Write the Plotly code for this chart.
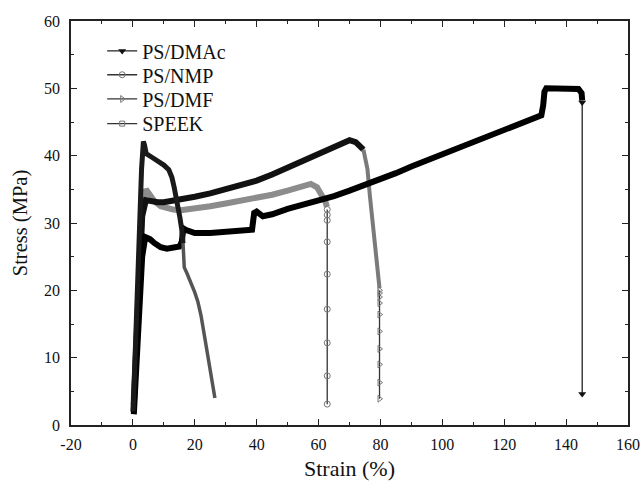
import plotly.graph_objects as go

# ---- tensile curves: strain (%) vs stress (MPa) ----
# continuous (densely sampled) part of each curve
dmac_x = [0.3, 1.0, 2.0, 3.0, 4.0, 5.5, 7, 9, 11, 13, 15, 15.8, 16.3, 17, 20, 25, 30, 35,
          38.5, 39.2, 40, 42, 45, 50, 55, 60, 65, 70, 75, 80, 85, 90, 95, 100, 105, 110,
          115, 120, 125, 130, 132, 132.6, 133, 133.6, 135, 140, 144, 145.0, 145.2]
dmac_y = [1.6, 8, 17, 25, 27.9, 27.6, 27.0, 26.4, 26.2, 26.3, 26.5, 27.2, 29.2, 29.0, 28.5,
          28.5, 28.7, 28.9, 29.0, 31.5, 31.7, 31.0, 31.3, 32.1, 32.7, 33.3, 34.0, 34.8, 35.6,
          36.5, 37.4, 38.4, 39.3, 40.3, 41.2, 42.1, 43.0, 43.8, 44.8, 45.6, 46.0, 47.5, 49.5,
          50.0, 50.0, 50.0, 49.9, 49.3, 48.2]

nmp_x = [0.2, 1, 2, 3, 4.2, 5.5, 7, 9, 11, 13, 15.5, 20, 25, 30, 35, 40, 45, 50, 55, 57.5,
         59.5, 61, 62.2, 62.7]
nmp_y = [3.0, 12, 24, 32, 35.0, 34.3, 33.2, 32.5, 32.2, 32.0, 31.9, 32.1, 32.5, 32.9, 33.3,
         33.7, 34.2, 34.8, 35.5, 35.8, 35.3, 34.3, 33.2, 32.4]

dmf_x = [0.2, 1, 2, 3, 4.2, 6, 8, 10, 13, 16, 20, 25, 30, 35, 40, 45, 50, 55, 60, 65, 68,
         70, 72, 74.5]
dmf_y = [2.0, 10, 21, 31, 33.4, 33.2, 33.1, 33.1, 33.3, 33.5, 33.9, 34.4, 35.0, 35.6, 36.3,
         37.2, 38.2, 39.2, 40.2, 41.2, 41.8, 42.3, 42.0, 40.9]
# steep drop after the DMF yield, sampled less densely
dmf_drop_x = [74.5, 75.8, 76.6, 77.4, 78.2, 79.0, 79.7]
dmf_drop_y = [40.9, 38.0, 34.0, 30.4, 27.0, 24.0, 20.3]

speek_x = [0.1, 0.8, 1.5, 2.2, 2.8, 3.4, 3.8, 4.3, 6, 8, 10, 11.6, 12.6, 13.3, 14, 14.6,
           15.2, 15.8, 16.2]
speek_y = [2.0, 10, 20, 30, 38, 42.1, 41.5, 40.3, 39.8, 39.3, 38.6, 37.9, 36.8, 35.4, 34,
           32.4, 30.8, 29.0, 27]
speek_drop_x = [16.2, 16.6, 17.5, 18.7, 20, 21, 22, 23, 24, 25.2, 26, 26.5]
speek_drop_y = [27, 23.4, 22.5, 21.3, 19.7, 18.3, 16.3, 13.6, 10.8, 7.6, 5.5, 4.0]

# sparse points recorded during fracture
dmac_tail_x = [145.2, 145.2]
dmac_tail_y = [47.9, 4.6]

nmp_tail_x = [62.8] * 9
nmp_tail_y = [32.0, 31.2, 30.4, 27.2, 22.4, 17.2, 12.2, 7.3, 3.1]

dmf_tail_x = [79.7] * 10
dmf_tail_y = [20.0, 19.6, 19.0, 18.1, 16.4, 13.9, 11.3, 9.0, 6.3, 3.9]

names = ["PS/DMAc", "PS/NMP", "PS/DMF", "SPEEK"]

x_ticks = [-20, 0, 20, 40, 60, 80, 100, 120, 140, 160]
x_tick_labels = ["-20", "0", "20", "40", "60", "80", "100", "120", "140", "160"]
y_ticks = [0, 10, 20, 30, 40, 50, 60]
y_tick_labels = ["0", "10", "20", "30", "40", "50", "60"]

FONT = "'Liberation Serif', 'Times New Roman', Times, serif"

fig = go.Figure()

# dense sampling renders as a thick band
fig.add_trace(go.Scatter(x=nmp_x, y=nmp_y, mode="lines", showlegend=False,
                         line=dict(color="#8c8c8c", width=6)))
fig.add_trace(go.Scatter(x=dmf_x, y=dmf_y, mode="lines", showlegend=False,
                         line=dict(color="#111111", width=6)))
fig.add_trace(go.Scatter(x=dmf_drop_x, y=dmf_drop_y, mode="lines", showlegend=False,
                         line=dict(color="#7a7a7a", width=4)))
fig.add_trace(go.Scatter(x=dmac_x, y=dmac_y, mode="lines", showlegend=False,
                         line=dict(color="#000000", width=6)))
fig.add_trace(go.Scatter(x=speek_x, y=speek_y, mode="lines", showlegend=False,
                         line=dict(color="#1a1a1a", width=5)))
fig.add_trace(go.Scatter(x=speek_drop_x, y=speek_drop_y, mode="lines", showlegend=False,
                         line=dict(color="#555555", width=3.5)))

# fracture segments with individual markers; these carry the legend entries
fig.add_trace(go.Scatter(x=dmac_tail_x, y=dmac_tail_y, mode="lines+markers", name=names[0],
                         legend="legend",
                         line=dict(color="#222222", width=1.3),
                         marker=dict(symbol="triangle-down", size=7, color="#111111")))
fig.add_trace(go.Scatter(x=nmp_tail_x, y=nmp_tail_y, mode="lines+markers", name=names[1],
                         legend="legend2",
                         line=dict(color="#333333", width=1.3),
                         marker=dict(symbol="circle-open", size=6, color="#777777",
                                     line=dict(width=1))))
fig.add_trace(go.Scatter(x=dmf_tail_x, y=dmf_tail_y, mode="lines+markers", name=names[2],
                         legend="legend3",
                         line=dict(color="#333333", width=1.3),
                         marker=dict(symbol="triangle-right-open", size=6, color="#777777",
                                     line=dict(width=1))))
fig.add_trace(go.Scatter(x=[None], y=[None], mode="lines+markers", name=names[3],
                         legend="legend4",
                         line=dict(color="#333333", width=1.3),
                         marker=dict(symbol="square-open", size=5, color="#777777",
                                     line=dict(width=1))))

axis_common = dict(
    showline=True, linecolor="#222222", linewidth=1.5, mirror="ticks",
    ticks="inside", ticklen=6, tickwidth=1.3, tickcolor="#222222",
    showgrid=False, zeroline=False, automargin=False,
    tickfont=dict(family=FONT, size=16, color="#111111"),
)

fig.update_xaxes(range=[-20, 160], tickmode="array", tickvals=x_ticks,
                 ticktext=x_tick_labels,
                 minor=dict(dtick=10, tick0=0, ticks="inside", ticklen=3.5,
                            tickcolor="#222222"),
                 title_text="Strain (%)", title_standoff=12, ticklabelstandoff=4,
                 title_font=dict(family=FONT, size=22, color="#111111"),
                 **axis_common)
fig.update_yaxes(range=[0, 60], tickmode="array", tickvals=y_ticks,
                 ticktext=y_tick_labels,
                 minor=dict(dtick=5, tick0=0, ticks="inside", ticklen=3.5,
                            tickcolor="#222222"),
                 title_text="Stress (MPa)", title_standoff=11, ticklabelstandoff=6,
                 title_font=dict(family=FONT, size=20.5, color="#111111"),
                 **axis_common)

# one legend box per row so the row spacing can be set freely
legend_rows = [0.926, 0.867, 0.807, 0.746]
legend_style = dict(x=0.056, xanchor="left", yanchor="middle",
                    bgcolor="rgba(0,0,0,0)", borderwidth=0,
                    font=dict(family=FONT, size=20, color="#111111"))

fig.update_layout(
    width=640, height=481,
    margin=dict(l=71, r=12, t=21, b=56),
    paper_bgcolor="white", plot_bgcolor="white",
    font=dict(family=FONT, color="#111111"),
    showlegend=True,
    legend=dict(y=legend_rows[0], **legend_style),
    legend2=dict(y=legend_rows[1], **legend_style),
    legend3=dict(y=legend_rows[2], **legend_style),
    legend4=dict(y=legend_rows[3], **legend_style),
)

fig.write_html("out.html")
